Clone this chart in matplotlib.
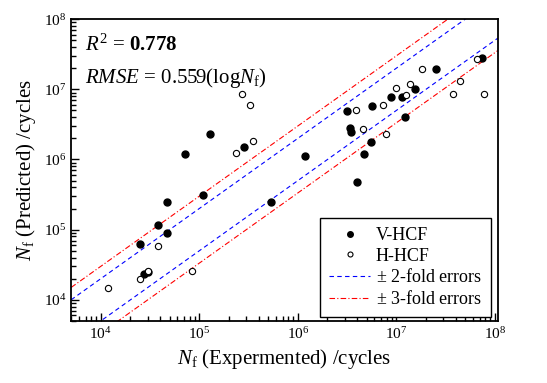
import numpy as np
import matplotlib.pyplot as plt
from matplotlib.ticker import LogLocator, NullFormatter

plt.rcParams['font.family'] = 'Liberation Serif'
plt.rcParams['mathtext.fontset'] = 'custom'
plt.rcParams['mathtext.rm'] = 'Liberation Serif'
plt.rcParams['mathtext.it'] = 'Liberation Serif:italic'
plt.rcParams['mathtext.bf'] = 'Liberation Serif:bold'

# V-HCF (filled) : experimental vs predicted life
v_exp = [2.49e4, 3.80e4, 4.69e4, 4.69e4, 7.16e4, 1.09e5, 1.29e5, 2.85e5, 5.36e5,
         1.19e6, 2.72e4, 3.0e4, 3.18e6, 5.71e6, 3.41e6, 3.49e6, 1.21e7, 5.58e6,
         4.73e6, 4.02e6, 8.91e6, 1.15e7, 1.56e7, 2.50e7, 7.35e7]
v_pred = [6.30e4, 1.17e5, 9.04e4, 2.49e5, 1.20e6, 3.13e5, 2.31e6, 1.51e6, 2.49e5,
          1.13e6, 2.30e4, 2.50e4, 4.91e6, 5.78e6, 2.82e6, 2.47e6, 4.03e6, 1.78e6,
          1.20e6, 4.80e5, 7.77e6, 7.77e6, 1.01e7, 1.95e7, 2.79e7]

# H-HCF (open)
h_exp = [3.80e4, 1.18e4, 2.49e4, 3.01e4, 8.43e4, 2.36e5, 3.52e5, 2.72e5, 3.28e5,
         3.93e6, 7.39e6, 4.62e6, 7.93e6, 1.00e7, 1.39e7, 1.24e7, 1.84e7, 3.72e7,
         7.69e7, 4.39e7, 6.53e7]
h_pred = [5.90e4, 1.49e4, 2.00e4, 2.60e4, 2.60e4, 1.24e6, 1.84e6, 8.57e6, 5.98e6,
          5.08e6, 5.98e6, 2.73e6, 2.31e6, 1.04e7, 1.19e7, 8.29e6, 1.95e7, 8.57e6,
          8.57e6, 1.31e7, 2.70e7]

xlim = (5e3, 1.07e8)
ylim = (5e3, 1e8)

fig = plt.figure(figsize=(5.47, 3.83), dpi=100)
ax = fig.add_axes([0.130, 0.162, 0.780, 0.788])

xx = np.array(xlim)
ax.plot(v_exp, v_pred, 'o', color='black', ms=5, label='V-HCF', zorder=3)
ax.plot(h_exp, h_pred, 'o', mfc='white', mec='black', mew=0.8, ms=4.5,
        label='H-HCF', zorder=3)
l2, = ax.plot(xx, 2 * xx, color='blue', lw=0.8, dashes=(4, 3),
              label=r'$\pm$ 2-fold errors')
ax.plot(xx, xx / 2, color='blue', lw=0.8, dashes=(4, 3))
l3, = ax.plot(xx, 3 * xx, color='red', lw=0.8, dashes=(5, 2, 1, 2),
              label=r'$\pm$ 3-fold errors')
ax.plot(xx, xx / 3, color='red', lw=0.8, dashes=(5, 2, 1, 2))

ax.set_xscale('log')
ax.set_yscale('log')
ax.set_xlim(xlim)
ax.set_ylim(ylim)

for a in (ax.xaxis, ax.yaxis):
    a.set_major_locator(LogLocator(base=10, numticks=10))
    a.set_minor_locator(LogLocator(base=10, subs=np.arange(2, 10), numticks=10))
    a.set_minor_formatter(NullFormatter())

ax.tick_params(which='both', direction='in', top=False, right=False,
               labelsize=11, width=1)
ax.tick_params(which='major', length=6)
ax.tick_params(which='minor', length=3.5)
for s in ax.spines.values():
    s.set_linewidth(1.3)

ax.set_xlabel(r'$N_{\mathrm{f}}$ (Expermented) /cycles', fontsize=15, labelpad=4)
ax.set_ylabel(r'$N_{\mathrm{f}}$ (Predicted) /cycles', fontsize=15, labelpad=4)

ax.text(0.033, 0.95, r'$R^2$ = $\mathbf{0.778}$', transform=ax.transAxes,
        fontsize=15, va='top', ha='left')
ax.text(0.033, 0.845, r'$RMSE$ = 0.559(log$N_{\mathrm{f}}$)', transform=ax.transAxes,
        fontsize=15, va='top', ha='left')

leg = ax.legend(loc='lower right', bbox_to_anchor=(0.984, 0.013), fontsize=13,
                fancybox=False, framealpha=1, edgecolor='black', borderaxespad=0,
                handlelength=2.3, labelspacing=0.2, borderpad=0.5, handletextpad=0.3,
                markerscale=0.8)
leg.get_frame().set_linewidth(1.0)

fig.savefig('out.png', dpi=100)
